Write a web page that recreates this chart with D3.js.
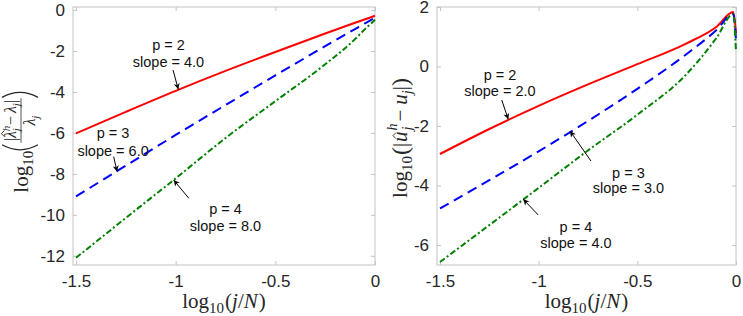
<!DOCTYPE html>
<html>
<head>
<meta charset="utf-8">
<script src="https://cdn.jsdelivr.net/npm/d3@7"></script>
<style>
  body { margin: 0; background: #fff; }
  svg { display: block; }
</style>
</head>
<body>
<svg width="743" height="316"></svg>
<script>
var svg = d3.select('svg');

// x values, log10(j/N)
var xLeft  = [-1.5, -1.25, -1, -0.75, -0.5, -0.25, -0.1, -0.05, 0];
var xRight = [-1.5, -1.25, -1, -0.75, -0.5, -0.25, -0.1, -0.014, 0];

// left panel: eigenvalue error
var eigP2 = [-6.02, -4.97, -3.945, -2.97, -2.045, -1.145, -0.62, -0.45, -0.28];
var eigP3 = [-9.1, -7.6, -6.1, -4.64, -3.19, -1.765, -0.925, -0.645, -0.37];
var eigP4 = [-12.1, -10.15, -8.22, -6.25, -4.45, -2.65, -1.42, -0.93, -0.47];

// right panel: eigenfunction error
var funP2 = [-2.94, -2.1, -1.32, -0.6, 0.08, 0.78, 1.33, 1.83, 1.12];
var funP3 = [-4.77, -3.82, -2.85, -1.83, -0.75, 0.42, 1.22, 1.77, 0.9];
var funP4 = [-6.57, -5.33, -4.08, -2.82, -1.62, -0.25, 0.95, 1.76, 0.5];

var xTicks = [-1.5, -1, -0.5, 0];
var yTicksLeft = [-12, -10, -8, -6, -4, -2, 0];
var yTicksRight = [-6, -4, -2, 0, 2];

// annotation text + arrow (tail -> tip) in data units
var notesLeft = [
  {lines: ['p = 2', 'slope = 4.0'], at: [-1.036, -1.71, -2.54], tail: [-1.013, -2.93], tip: [-0.987, -3.87]},
  {lines: ['p = 3', 'slope = 6.0'], at: [-1.314, -6.0, -6.88], tail: [-1.311, -7.16], tip: [-1.294, -7.89]},
  {lines: ['p = 4', 'slope = 8.0'], at: [-0.75, -9.72, -10.55], tail: [-0.934, -9.19], tip: [-1.01, -8.3]}
];
var notesRight = [
  {lines: ['p = 2', 'slope = 2.0'], at: [-1.196, -0.285, -0.823], tail: [-1.187, -1.125], tip: [-1.154, -1.774]},
  {lines: ['p = 3', 'slope = 3.0'], at: [-0.545, -3.58, -4.08], tail: [-0.735, -3.175], tip: [-0.841, -2.167]},
  {lines: ['p = 4', 'slope = 4.0'], at: [-0.811, -5.38, -5.93], tail: [-1.002, -4.99], tip: [-1.078, -4.46]}
];

var sans = '"Liberation Sans", Arial, Helvetica, sans-serif';
var serif = '"Liberation Serif", "Times New Roman", serif';
var axisCol = '#c4c4c4';
var textCol = '#262626';

// arrow head
svg.append('defs').append('marker')
  .attr('id', 'head')
  .attr('viewBox', '0 0 10 10')
  .attr('refX', 10).attr('refY', 5)
  .attr('markerUnits', 'userSpaceOnUse')
  .attr('markerWidth', 7).attr('markerHeight', 6)
  .attr('orient', 'auto')
  .append('path').attr('d', 'M0,0 L10,5 L0,10 L3,5 z').attr('fill', '#000');

// lays out pieces of math text one after another, returns total width
var mathRow = (g, parts) => {
  var x = 0;
  parts.forEach(p => {
    var t = g.append('text')
      .attr('x', x + (p.dx || 0))
      .attr('y', p.y || 0)
      .style('font-family', serif)
      .style('font-size', p.size + 'px')
      .style('font-style', p.it ? 'italic' : 'normal')
      .attr('fill', textCol)
      .text(p.t);
    var w = t.node().getComputedTextLength();
    if (p.hat) {
      var cx = x + (p.dx || 0) + w / 2 + 1;
      var top = (p.y || 0) - p.size * p.hat;
      g.append('path')
        .attr('d', 'M' + (cx - 3) + ',' + (top + 2) + 'L' + cx + ',' + (top - 1) + 'L' + (cx + 3) + ',' + (top + 2))
        .attr('fill', 'none').attr('stroke', textCol).attr('stroke-width', 0.9);
    }
    if (!p.stay) x += w + (p.dx || 0) + (p.after || 0);
  });
  return x;
};

var centerRow = (parent, parts) => {
  var g = parent.append('g');
  var w = mathRow(g, parts);
  g.attr('transform', 'translate(' + (-w / 2) + ',0)');
  return w;
};

// tall bracket drawn as a curve, opening = 1 for "(" and -1 for ")"
var paren = (g, x, opening, top, bottom) => {
  var bow = 5 * opening;
  var x0 = opening > 0 ? x + 5 : x + 1;
  g.append('path')
    .attr('d', 'M' + x0 + ',' + top + 'Q' + (x0 - 2 * bow) + ',' + ((top + bottom) / 2) + ' ' + x0 + ',' + bottom)
    .attr('fill', 'none').attr('stroke', textCol).attr('stroke-width', 1.3);
  return 7;
};

var panel = cfg => {
  var x = d3.scaleLinear().domain([-1.515, 0]).range([cfg.x0, cfg.x1]);
  var y = d3.scaleLinear().domain(cfg.yDomain).range([265, 7]);
  var g = svg.append('g');

  g.append('rect')
    .attr('x', cfg.x0).attr('y', 7)
    .attr('width', cfg.x1 - cfg.x0).attr('height', 258)
    .attr('fill', 'none').attr('stroke', axisCol).attr('stroke-width', 1);

  var style = (sel) => {
    sel.select('.domain').remove();
    sel.selectAll('line').attr('stroke', axisCol);
    sel.selectAll('text').attr('fill', textCol)
      .style('font-family', sans).style('font-size', '17px');
  };
  var fmt = d => String(d);

  g.append('g').attr('transform', 'translate(0,265)')
    .call(d3.axisBottom(x).tickValues(xTicks).tickSize(-4).tickPadding(10).tickFormat(fmt)).call(style);
  g.append('g').attr('transform', 'translate(0,7)')
    .call(d3.axisTop(x).tickValues(xTicks).tickSize(-4).tickFormat('')).call(style);
  g.append('g').attr('transform', 'translate(' + cfg.x0 + ',0)')
    .call(d3.axisLeft(y).tickValues(cfg.yTicks).tickSize(-4).tickPadding(8).tickFormat(fmt)).call(style);
  g.append('g').attr('transform', 'translate(' + cfg.x1 + ',0)')
    .call(d3.axisRight(y).tickValues(cfg.yTicks).tickSize(-4).tickFormat('')).call(style);

  var line = d3.line().x(d => x(d[0])).y(d => y(d[1])).curve(d3.curveMonotoneX);
  cfg.series.forEach(s => {
    g.append('path')
      .datum(cfg.xs.map((v, i) => [v, s.values[i]]))
      .attr('d', line)
      .attr('fill', 'none')
      .attr('stroke', s.color)
      .attr('stroke-width', 2)
      .attr('stroke-dasharray', s.dash);
  });

  cfg.notes.forEach(n => {
    g.append('line')
      .attr('x1', x(n.tail[0])).attr('y1', y(n.tail[1]))
      .attr('x2', x(n.tip[0])).attr('y2', y(n.tip[1]))
      .attr('stroke', '#000').attr('stroke-width', 1)
      .attr('marker-end', 'url(#head)');
    n.lines.forEach((t, i) => {
      g.append('text')
        .attr('x', x(n.at[0])).attr('y', y(n.at[i + 1]))
        .attr('dy', '0.35em')
        .attr('text-anchor', 'middle')
        .attr('fill', '#111')
        .style('font-family', sans).style('font-size', '14.5px')
        .text(t);
    });
  });

  // x label: log10(j/N)
  var xl = g.append('g').attr('transform', 'translate(' + ((cfg.x0 + cfg.x1) / 2) + ',308)');
  centerRow(xl, [
    {t: 'log', size: 21},
    {t: '10', size: 15, y: 5},
    {t: '(', size: 21, dx: 1},
    {t: 'j', size: 21, it: true},
    {t: '/', size: 21},
    {t: 'N', size: 21, it: true, after: 1},
    {t: ')', size: 21}
  ]);

  return g;
};

var left = panel({
  x0: 73, x1: 375, yDomain: [-12.45, 0.15], yTicks: yTicksLeft, xs: xLeft,
  series: [
    {values: eigP2, color: '#ff0000', dash: null},
    {values: eigP3, color: '#0000ff', dash: '10,6'},
    {values: eigP4, color: '#008000', dash: '6,2.5,2,2.5'}
  ],
  notes: notesLeft
});

var right = panel({
  x0: 437, x1: 736, yDomain: [-6.67, 2], yTicks: yTicksRight, xs: xRight,
  series: [
    {values: funP2, color: '#ff0000', dash: null},
    {values: funP3, color: '#0000ff', dash: '10,6'},
    {values: funP4, color: '#008000', dash: '6,2.5,2,2.5'}
  ],
  notes: notesRight
});

// left y label: log10( |lambda_hat_j^h - lambda_j| / lambda_j )
var yl = svg.append('g').attr('transform', 'translate(21,142) rotate(-90)');
var row = yl.append('g');
var w1 = mathRow(row, [
  {t: 'log', size: 21, y: 7},
  {t: '10', size: 15, y: 12, after: 1}
]);
w1 += paren(row, w1, 1, -19, 17);
var num = row.append('g');
var wn = mathRow(num, [
  {t: '|', size: 16, y: -5},
  {t: 'λ', size: 16, y: -5, it: true, hat: 0.85},
  {t: 'h', size: 11, y: -11, it: true, stay: true},
  {t: 'j', size: 11, y: -1, it: true},
  {t: '−', size: 16, y: -5, dx: 3},
  {t: 'λ', size: 16, y: -5, it: true, dx: 3},
  {t: 'j', size: 11, y: -1, it: true},
  {t: '|', size: 16, y: -5}
]);
var den = row.append('g');
var wd = mathRow(den, [
  {t: 'λ', size: 16, y: 14, it: true},
  {t: 'j', size: 11, y: 18, it: true}
]);
var fw = Math.max(wn, wd) + 3;
num.attr('transform', 'translate(' + (w1 + (fw - wn) / 2) + ',0)');
den.attr('transform', 'translate(' + (w1 + (fw - wd) / 2) + ',0)');
row.append('line')
  .attr('x1', w1).attr('x2', w1 + fw).attr('y1', 0).attr('y2', 0)
  .attr('stroke', textCol).attr('stroke-width', 0.8);
var wc = paren(row, w1 + fw, -1, -19, 17);
row.attr('transform', 'translate(' + (-(w1 + fw + wc) / 2) + ',0)');

// right y label: log10( |u_hat_j^h - u_j| )
var yr = svg.append('g').attr('transform', 'translate(401,138) rotate(-90)');
centerRow(yr, [
  {t: 'log', size: 21, y: 6},
  {t: '10', size: 15, y: 11},
  {t: '(', size: 24, y: 7, dx: 1},
  {t: '|', size: 21, y: 6, after: 1},
  {t: 'u', size: 21, y: 6, it: true, hat: 0.62, after: 1},
  {t: 'h', size: 14, y: -4, it: true, stay: true},
  {t: 'j', size: 14, y: 11, it: true},
  {t: '−', size: 21, y: 6, dx: 5},
  {t: 'u', size: 21, y: 6, it: true, dx: 5},
  {t: 'j', size: 14, y: 11, it: true},
  {t: '|', size: 21, y: 6},
  {t: ')', size: 24, y: 7}
]);
</script>
</body>
</html>
